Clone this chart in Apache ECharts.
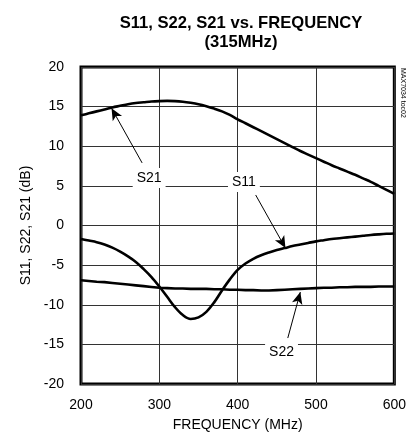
<!DOCTYPE html>
<html>
<head>
<meta charset="utf-8">
<script src="https://cdn.jsdelivr.net/npm/echarts@6/dist/echarts.min.js"></script>
<style>html,body{margin:0;padding:0;background:#fff}#c{width:409px;height:440px}</style>
</head>
<body>
<div id="c"></div>
<script>
var freq = [200,210,220,230,240,250,260,270,280,290,300,310,320,330,340,350,360,370,380,390,400,410,420,430,440,450,460,470,480,490,500,510,520,530,540,550,560,570,580,590,600];
var s21 = [13.9,14.15,14.4,14.65,14.9,15.1,15.3,15.45,15.55,15.65,15.7,15.72,15.7,15.62,15.48,15.3,15.05,14.75,14.4,13.95,13.4,12.9,12.4,11.9,11.4,10.9,10.4,9.9,9.4,8.95,8.5,8.05,7.6,7.2,6.8,6.4,5.95,5.5,5.0,4.5,4.0];
var s11 = [-1.7,-1.9,-2.1,-2.4,-2.8,-3.3,-3.9,-4.6,-5.5,-6.5,-7.7,-9.0,-10.3,-11.3,-11.8,-11.6,-10.9,-9.7,-8.2,-6.8,-5.6,-4.8,-4.2,-3.75,-3.4,-3.1,-2.85,-2.6,-2.4,-2.2,-2.0,-1.85,-1.7,-1.6,-1.5,-1.4,-1.3,-1.2,-1.12,-1.05,-1.0];
var s22 = [-6.9,-7.0,-7.1,-7.15,-7.25,-7.35,-7.45,-7.55,-7.65,-7.75,-7.85,-7.9,-7.95,-7.95,-8.0,-8.0,-8.0,-8.05,-8.05,-8.1,-8.1,-8.15,-8.15,-8.2,-8.2,-8.15,-8.1,-8.05,-8.0,-7.95,-7.9,-7.85,-7.85,-7.8,-7.8,-7.75,-7.75,-7.75,-7.7,-7.7,-7.7];
var xTicks = [200,300,400,500,600];
var yTicks = [-20,-15,-10,-5,0,5,10,15,20];
var labelNames = ['S21','S11','S22'];
var labelPos = [[287,6.0],[408,5.5],[456,-16.0]];
var arrows = [[[278,7.9],[239,14.8]],[[423,3.85],[461,-2.85]],[[464,-14.2],[480,-8.4]]];

function pairs(xs, ys){ return xs.map(function(x,i){ return [x, ys[i]]; }); }
var FONT = 'Liberation Sans, Arial, sans-serif';
var chart = echarts.init(document.getElementById('c'), null, {renderer:'canvas'});
var lineBase = {type:'line', showSymbol:false, smooth:0.35, lineStyle:{color:'#000', width:2.6}, itemStyle:{color:'#000'}, silent:true, animation:false};
chart.setOption({
  animation:false,
  title:{text:'S11, S22, S21 vs. FREQUENCY\n(315MHz)', left:236, top:9, textAlign:'center',
    textStyle:{fontFamily:FONT, fontSize:16.6, fontWeight:'bold', color:'#000', lineHeight:19}},
  grid:{left:81, right:11, top:67, bottom:56, show:true, borderColor:'#000', borderWidth:3, backgroundColor:'transparent'},
  xAxis:{type:'value', min:200, max:600, interval:100,
    name:'FREQUENCY (MHz)', nameLocation:'middle', nameGap:34,
    nameTextStyle:{fontFamily:FONT, fontSize:14, color:'#000'},
    axisLine:{show:false}, axisTick:{show:false},
    axisLabel:{fontFamily:FONT, fontSize:14, color:'#000', margin:14,
      formatter:function(v){ return xTicks.indexOf(v)>=0 ? String(v) : ''; }},
    splitLine:{show:true, lineStyle:{color:'#333', width:1}}},
  yAxis:{type:'value', min:-20, max:20, interval:5,
    name:'S11, S22, S21 (dB)', nameLocation:'middle', nameGap:48,
    nameTextStyle:{fontFamily:FONT, fontSize:14, color:'#000'},
    axisLine:{show:false}, axisTick:{show:false},
    axisLabel:{fontFamily:FONT, fontSize:14, color:'#000', margin:17,
      formatter:function(v){ return yTicks.indexOf(v)>=0 ? String(v) : ''; }},
    splitLine:{show:true, lineStyle:{color:'#333', width:1}}},
  graphic:[{type:'text', x:398+8, y:68, rotation:-Math.PI/2,
    style:{text:'MAX7034 toc02', fontFamily:FONT, fontSize:7, fill:'#000'}}],
  series:[
    Object.assign({}, lineBase, {name:'S21', data:pairs(freq,s21),
      markLine:{silent:true, symbol:['none','arrow'], symbolSize:[10,11], animation:false,
        itemStyle:{color:'#000'},
        lineStyle:{color:'#000', width:1, type:'solid'}, label:{show:false},
        data:arrows.map(function(a){ return [{coord:a[0], symbol:'none'},{coord:a[1], symbol:'arrow', symbolSize:[8,12]}]; })},
      markPoint:{silent:true, symbol:'rect', symbolSize:1, itemStyle:{color:'rgba(0,0,0,0)'}, animation:false,
        label:{show:true, position:'inside', fontFamily:FONT, fontSize:14, color:'#000', backgroundColor:'#fff', padding:[3,4], lineHeight:14,
          formatter:function(p){ return p.name; }},
        data:labelNames.map(function(n,i){ return {name:n, coord:labelPos[i]}; })}
    }),
    Object.assign({}, lineBase, {name:'S11', data:pairs(freq,s11)}),
    Object.assign({}, lineBase, {name:'S22', data:pairs(freq,s22), smooth:false})
  ]
});
</script>
</body>
</html>
